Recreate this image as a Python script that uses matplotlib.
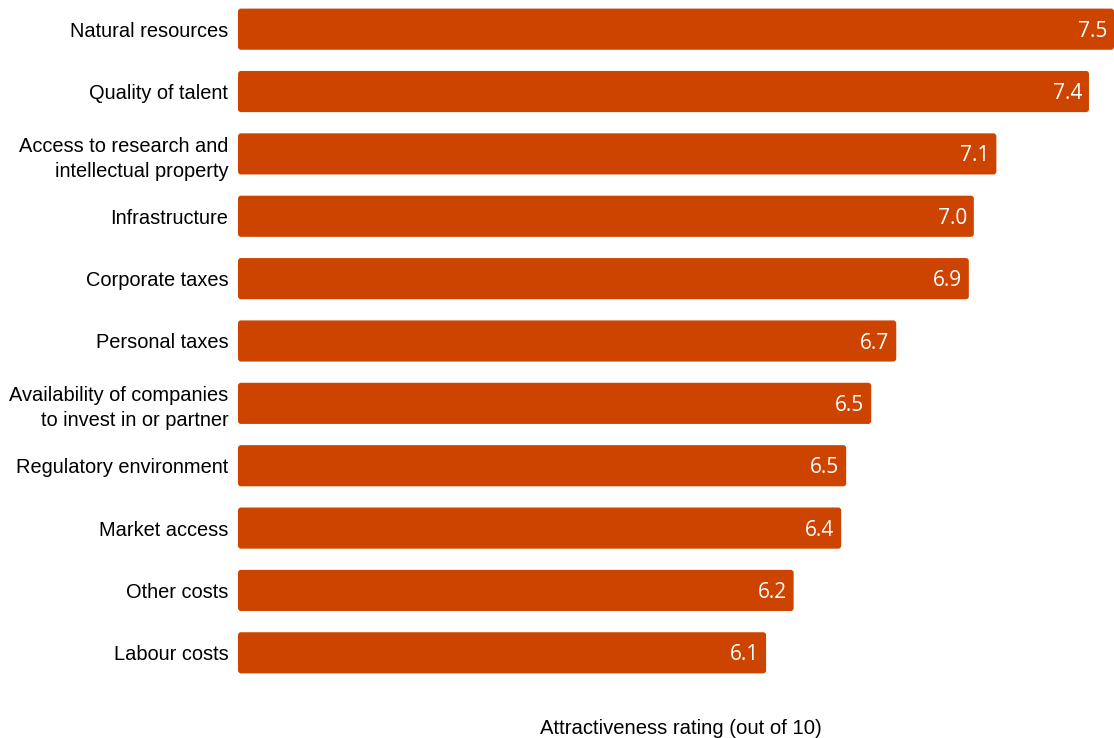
import matplotlib.pyplot as plt
from matplotlib.patches import FancyBboxPatch

categories = [
    "Natural resources",
    "Quality of talent",
    "Access to research and\nintellectual property",
    "Infrastructure",
    "Corporate taxes",
    "Personal taxes",
    "Availability of companies\nto invest in or partner",
    "Regulatory environment",
    "Market access",
    "Other costs",
    "Labour costs",
]
# bar lengths as drawn in the picture
ratings = [7.50, 7.40, 7.03, 6.94, 6.92, 6.63, 6.53, 6.43, 6.41, 6.22, 6.11]
# labels printed on the bars
rating_labels = ["7.5", "7.4", "7.1", "7.0", "6.9", "6.7", "6.5", "6.5", "6.4", "6.2", "6.1"]

bar_color = "#CC4400"
x_start = 4.0

fig = plt.figure(figsize=(11.14, 7.38), dpi=100)
ax = fig.add_axes([238 / 1114, 54 / 738, 876 / 1114, 686 / 738])

y_pos = list(range(len(categories)))
bars = ax.barh(y_pos, [r - x_start for r in ratings], left=x_start, height=0.66,
               color=bar_color)

# swap plain rectangles for slightly rounded ones
for bar in bars:
    x, y = bar.get_x(), bar.get_y()
    w, h = bar.get_width(), bar.get_height()
    box = FancyBboxPatch((x, y), w, h, boxstyle="round,pad=0,rounding_size=0.012",
                         mutation_aspect=4.0, facecolor=bar_color, edgecolor="none")
    bar.remove()
    ax.add_patch(box)

for y, r, lab in zip(y_pos, ratings, rating_labels):
    ax.annotate(lab, (r, y), xytext=(-5, -1.5), textcoords="offset points",
                ha="right", va="center", color="white", fontsize=15,
                family="Open Sans")

ax.set_xlim(x_start, 7.5)
ax.set_ylim(len(categories) - 0.5, -0.5)
ax.set_yticks(y_pos)
ax.set_yticklabels(categories, fontsize=14.4, family="Liberation Sans", linespacing=1.38)
ax.tick_params(axis="y", length=0, pad=7)
ax.set_xticks([])
for side in ax.spines.values():
    side.set_visible(False)

fig.text(681 / 1114, 1 - 728 / 738, "Attractiveness rating (out of 10)",
         ha="center", va="center", fontsize=14.6, family="Liberation Sans")

fig.savefig("out.png", dpi=100)
